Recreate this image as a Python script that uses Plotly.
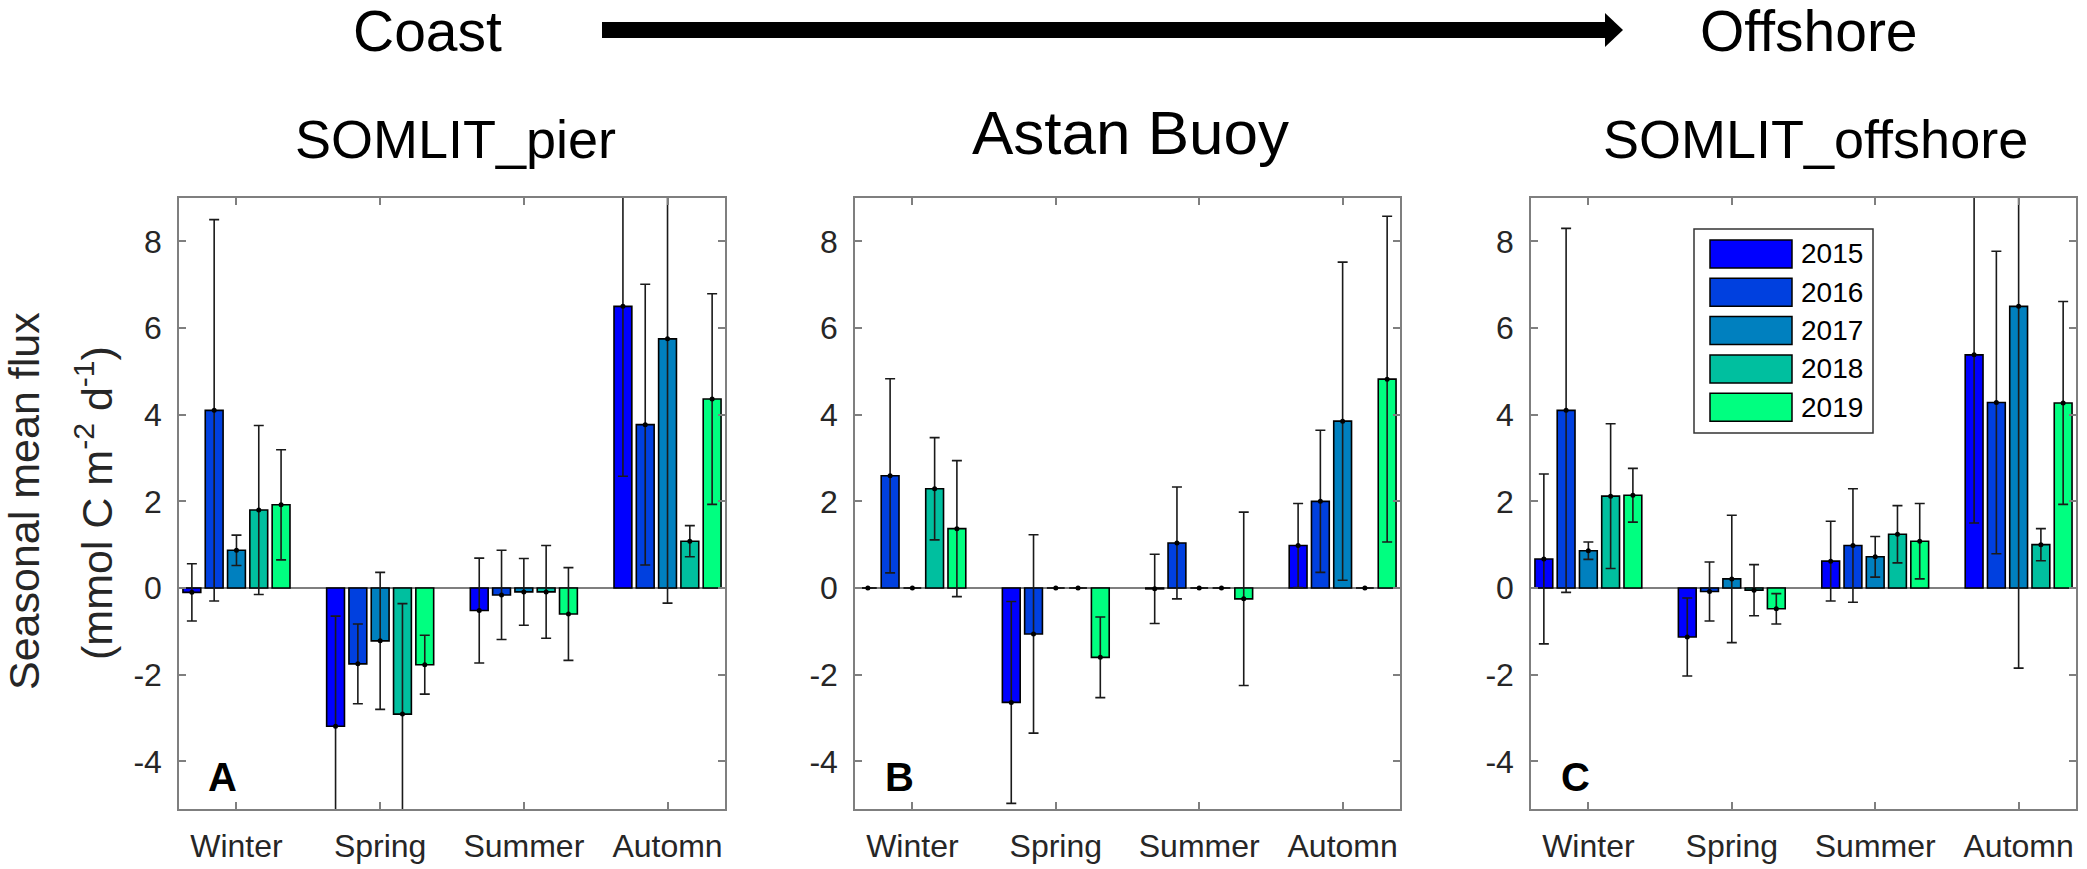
import plotly.graph_objects as go

# ---------------- data ----------------
SEASONS = ["Winter", "Spring", "Summer", "Automn"]
YEARS = ["2015", "2016", "2017", "2018", "2019"]
COLORS = ["#0000FF", "#0040DF", "#0080BF", "#00BF9F", "#00FF80"]

Y_TICKS = [-4, -2, 0, 2, 4, 6, 8]
Y_TICKTEXT = ["-4", "-2", "0", "2", "4", "6", "8"]

# SOMLIT_pier (panel A): one list per year, values per season
pier_values = [
    [-0.10, -3.19, -0.52, 6.50],
    [4.10, -1.75, -0.16, 3.77],
    [0.87, -1.22, -0.09, 5.75],
    [1.80, -2.91, -0.09, 1.08],
    [1.92, -1.77, -0.60, 4.36],
]
pier_errors = [
    [0.66, 2.54, 1.21, 3.92],
    [4.40, 0.92, 1.03, 3.24],
    [0.35, 1.58, 0.77, 6.10],
    [1.95, 2.55, 1.07, 0.36],
    [1.27, 0.68, 1.07, 2.43],
]

# Astan Buoy (panel B)
buoy_values = [
    [0.00, -2.64, -0.02, 0.98],
    [2.59, -1.06, 1.04, 2.00],
    [0.00, 0.00, 0.00, 3.85],
    [2.29, 0.00, 0.00, 0.00],
    [1.37, -1.60, -0.25, 4.82],
]
buoy_errors = [
    [0.00, 2.33, 0.80, 0.97],
    [2.24, 2.29, 1.29, 1.64],
    [0.00, 0.00, 0.00, 3.67],
    [1.18, 0.00, 0.00, 0.00],
    [1.57, 0.93, 2.00, 3.76],
]

# SOMLIT_offshore (panel C)
offshore_values = [
    [0.67, -1.13, 0.62, 5.38],
    [4.10, -0.08, 0.98, 4.28],
    [0.86, 0.21, 0.72, 6.50],
    [2.12, -0.05, 1.24, 1.00],
    [2.14, -0.48, 1.08, 4.27],
]
offshore_errors = [
    [1.96, 0.90, 0.92, 3.88],
    [4.20, 0.68, 1.31, 3.49],
    [0.20, 1.47, 0.47, 8.35],
    [1.67, 0.59, 0.66, 0.37],
    [0.62, 0.35, 0.87, 2.34],
]

PANEL_TITLES = ["SOMLIT_pier", "Astan Buoy", "SOMLIT_offshore"]
PANEL_LETTERS = ["A", "B", "C"]

# ---------------- layout helpers ----------------
W, H = 2087, 869
FONT = "Liberation Sans, Arial, Helvetica, sans-serif"
TXT = "#262626"
AXC = "#7f7f7f"


def px(x):
    return x / W


def py(y):
    return 1 - y / H


panel_px = [(179, 725), (855, 1400), (1531, 2076)]
y_top, y_bot = 198, 809

fig = go.Figure()

panel_data = [(pier_values, pier_errors), (buoy_values, buoy_errors),
              (offshore_values, offshore_errors)]

for p, (vals, errs) in enumerate(panel_data):
    xa = "x" if p == 0 else f"x{p+1}"
    ya = "y" if p == 0 else f"y{p+1}"
    for i, year in enumerate(YEARS):
        fig.add_trace(go.Bar(
            x=SEASONS, y=vals[i], xaxis=xa, yaxis=ya,
            name=year, showlegend=False,
            offsetgroup=str(i), alignmentgroup=f"g{p}",
            marker=dict(color=COLORS[i], line=dict(color="#000000", width=1.6)),
            error_y=dict(type="data", array=errs[i], color="#1a1a1a",
                         thickness=1.6, width=5),
        ))
        fig.add_trace(go.Scatter(
            x=SEASONS, y=vals[i], xaxis=xa, yaxis=ya, mode="markers",
            showlegend=False, offsetgroup=str(i), alignmentgroup=f"g{p}",
            marker=dict(color="#000000", size=5),
            hoverinfo="skip",
        ))

layout = dict(
    width=W, height=H,
    margin=dict(l=0, r=0, t=0, b=0),
    paper_bgcolor="white", plot_bgcolor="white",
    barmode="group", bargap=0.224, bargroupgap=0.2,
    scattermode="group", scattergap=0.224,
    font=dict(family=FONT, color=TXT),
    showlegend=False,
)

for p, (l, r) in enumerate(panel_px):
    xk = "xaxis" if p == 0 else f"xaxis{p+1}"
    yk = "yaxis" if p == 0 else f"yaxis{p+1}"
    ya = "y" if p == 0 else f"y{p+1}"
    xa = "x" if p == 0 else f"x{p+1}"
    layout[xk] = dict(
        domain=[px(l), px(r)], anchor=ya, type="category",
        categoryorder="array", categoryarray=SEASONS,
        range=[-0.4, 3.4], showline=True, linecolor=AXC, linewidth=1.5,
        mirror="ticks", ticks="inside", ticklen=7, tickcolor=AXC, tickwidth=1.5,
        tickfont=dict(size=32, color=TXT, family=FONT), showgrid=False,
        ticklabelstandoff=8, zeroline=False,
    )
    layout[yk] = dict(
        domain=[py(y_bot), py(y_top)], anchor=xa,
        range=[-5.1, 9.0], showline=True, linecolor=AXC, linewidth=1.5,
        mirror="ticks", ticks="inside", ticklen=7, tickcolor=AXC, tickwidth=1.5,
        tickvals=Y_TICKS, ticktext=Y_TICKTEXT,
        tickfont=dict(size=32, color=TXT, family=FONT), showgrid=False,
        zeroline=True, zerolinecolor=AXC, zerolinewidth=1.5,
        ticklabelstandoff=9,
    )

fig.update_layout(**layout)

annotations = []
shapes = []

# header
annotations.append(dict(text="Coast", x=px(427), y=py(31), xref="paper", yref="paper",
                        showarrow=False, xanchor="center", yanchor="middle",
                        font=dict(size=57, color="#000000", family=FONT)))
annotations.append(dict(text="Offshore", x=px(1809), y=py(31), xref="paper", yref="paper",
                        showarrow=False, xanchor="center", yanchor="middle",
                        font=dict(size=57, color="#000000", family=FONT)))
shapes.append(dict(type="rect", xref="paper", yref="paper",
                   x0=px(602), x1=px(1607), y0=py(38), y1=py(22),
                   fillcolor="#000000", line=dict(width=0)))
shapes.append(dict(type="path", xref="paper", yref="paper",
                   path=f"M {px(1605)} {py(13)} L {px(1623)} {py(30)} L {px(1605)} {py(47)} Z",
                   fillcolor="#000000", line=dict(width=0)))

# panel titles and letters
title_x = [455, 1130, 1815]
title_y = [139, 133, 139]
title_size = [54, 62, 54]
for p, (l, r) in enumerate(panel_px):
    annotations.append(dict(text=PANEL_TITLES[p], x=px(title_x[p]), y=py(title_y[p]),
                            xref="paper", yref="paper", showarrow=False,
                            xanchor="center", yanchor="middle",
                            font=dict(size=title_size[p], color="#000000", family=FONT)))
    annotations.append(dict(text=f"<b>{PANEL_LETTERS[p]}</b>", x=px(l + 44), y=py(777),
                            xref="paper", yref="paper", showarrow=False,
                            xanchor="center", yanchor="middle",
                            font=dict(size=40, color="#000000", family=FONT)))

# y-axis title (two lines)
annotations.append(dict(text="Seasonal mean flux", x=px(24), y=py(501),
                        xref="paper", yref="paper", showarrow=False, textangle=-90,
                        xanchor="center", yanchor="middle",
                        font=dict(size=43, color=TXT, family=FONT)))
annotations.append(dict(text="(mmol C m<sup>-2</sup> d<sup>-1</sup>)", x=px(94), y=py(503),
                        xref="paper", yref="paper", showarrow=False, textangle=-90,
                        xanchor="center", yanchor="middle",
                        font=dict(size=43, color=TXT, family=FONT)))

# custom legend in panel C
leg_l, leg_r, leg_t, leg_b = 1694, 1873, 229, 433
shapes.append(dict(type="rect", xref="paper", yref="paper",
                   x0=px(leg_l), x1=px(leg_r), y0=py(leg_b), y1=py(leg_t),
                   fillcolor="white", line=dict(color="#333333", width=1.5)))
for i, year in enumerate(YEARS):
    top = leg_t + 11 + 38.3 * i
    shapes.append(dict(type="rect", xref="paper", yref="paper",
                       x0=px(leg_l + 16), x1=px(leg_l + 98), y0=py(top + 28), y1=py(top),
                       fillcolor=COLORS[i], line=dict(color="#000000", width=1.5)))
    annotations.append(dict(text=year, x=px(leg_l + 105), y=py(top + 14),
                            xref="paper", yref="paper", showarrow=False,
                            xanchor="left", yanchor="middle",
                            font=dict(size=28, color="#000000", family=FONT)))

fig.update_layout(annotations=annotations, shapes=shapes)

fig.write_html(
    "out.html",
    config={"displayModeBar": False},
    post_script="document.body.style.margin='0';document.body.style.overflow='hidden';",
)
